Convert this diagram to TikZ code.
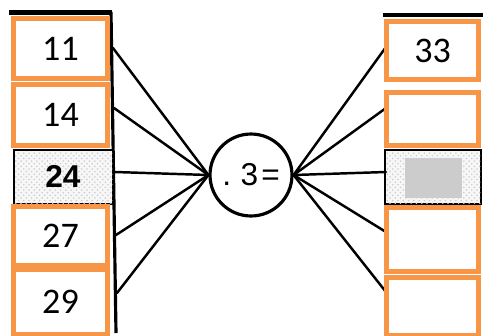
\documentclass[tikz,border=0pt]{standalone}
\usepackage{fontspec}
\setmainfont{Carlito}
\newfontfamily\arialfont{Liberation Sans}
\usetikzlibrary{calc,patterns}
\definecolor{boxorange}{HTML}{F79646}
\tikzset{
	numbox/.style={draw=boxorange, fill=white, line width=0.095cm, inner sep=0pt, font=\fontsize{20.5}{24}\selectfont},
	link/.style={line width=1.4pt, line cap=round}
}

\begin{document}
\begin{tikzpicture}[x=0.02cm, y=-0.02cm]
				\useasboundingbox (0,0) rectangle (483,335);
				
				% left column
				\draw[fill=black] (9,10) rectangle (111,14);
				\draw[line width=1.8pt] (111,12) -- (116,333);
				\draw[fill=black!3, line width=1.5pt] (14,150) rectangle (113,204);
				\draw[pattern=crosshatch dots, pattern color=black!20] (14,150) rectangle (113,204);
				\node[font=\arialfont\bfseries\fontsize{18}{20}\selectfont] (n24) at (63,176) {24};
				
				% right column
				\draw[fill=black] (383,13) rectangle (482,16);
				\draw[fill=black!3, line width=1.5pt] (385,150) rectangle (481,204);
				\draw[pattern=crosshatch dots, pattern color=black!20] (385,150) rectangle (481,204);
				\fill[black!20] (405,158) rectangle (462,198);
				
				% operator
				\node[draw, circle, line width=1.8pt, minimum size=1.64cm, inner sep=0pt,
					font=\arialfont\fontsize{18}{20}\selectfont] (op) at (251,175) {.\hspace{0.3em}3\hspace{0.1em}=};
				
				\foreach \y [count=\i] in {48,108,172,235,293} {
					\coordinate (l\i) at ({112+\i},\y);
					\draw[link] (l\i) -- (op.west);
				}
				\foreach \y [count=\i] in {47,108,172,232,292} {
					\coordinate (r\i) at (386,\y);
					\draw[link] (op.east) -- (r\i);
				}
				
				% number boxes
				\node[numbox, minimum width=1.88cm, minimum height=1.2cm] (n11) at (60.5,48.5) {11};
				\node[numbox, minimum width=1.88cm, minimum height=1.22cm] (n14) at (60.5,115) {14};
				\node[numbox, minimum width=1.88cm, minimum height=1.18cm] (n27) at (60.5,236) {27};
				\node[numbox, minimum width=1.88cm, minimum height=1.3cm] (n29) at (60.5,302) {29};
				
				\node[numbox, minimum width=1.84cm, minimum height=1.16cm] (m33) at (432.5,50.5) {33};
				\node[numbox, minimum width=1.84cm, minimum height=1.06cm] (m2) at (432.5,119) {};
				\node[numbox, minimum width=1.84cm, minimum height=1.28cm] (m4) at (432.5,239.5) {};
				\node[numbox, minimum width=1.84cm, minimum height=1.16cm] (m5) at (432.5,306.5) {};
			\end{tikzpicture}
\end{document}
